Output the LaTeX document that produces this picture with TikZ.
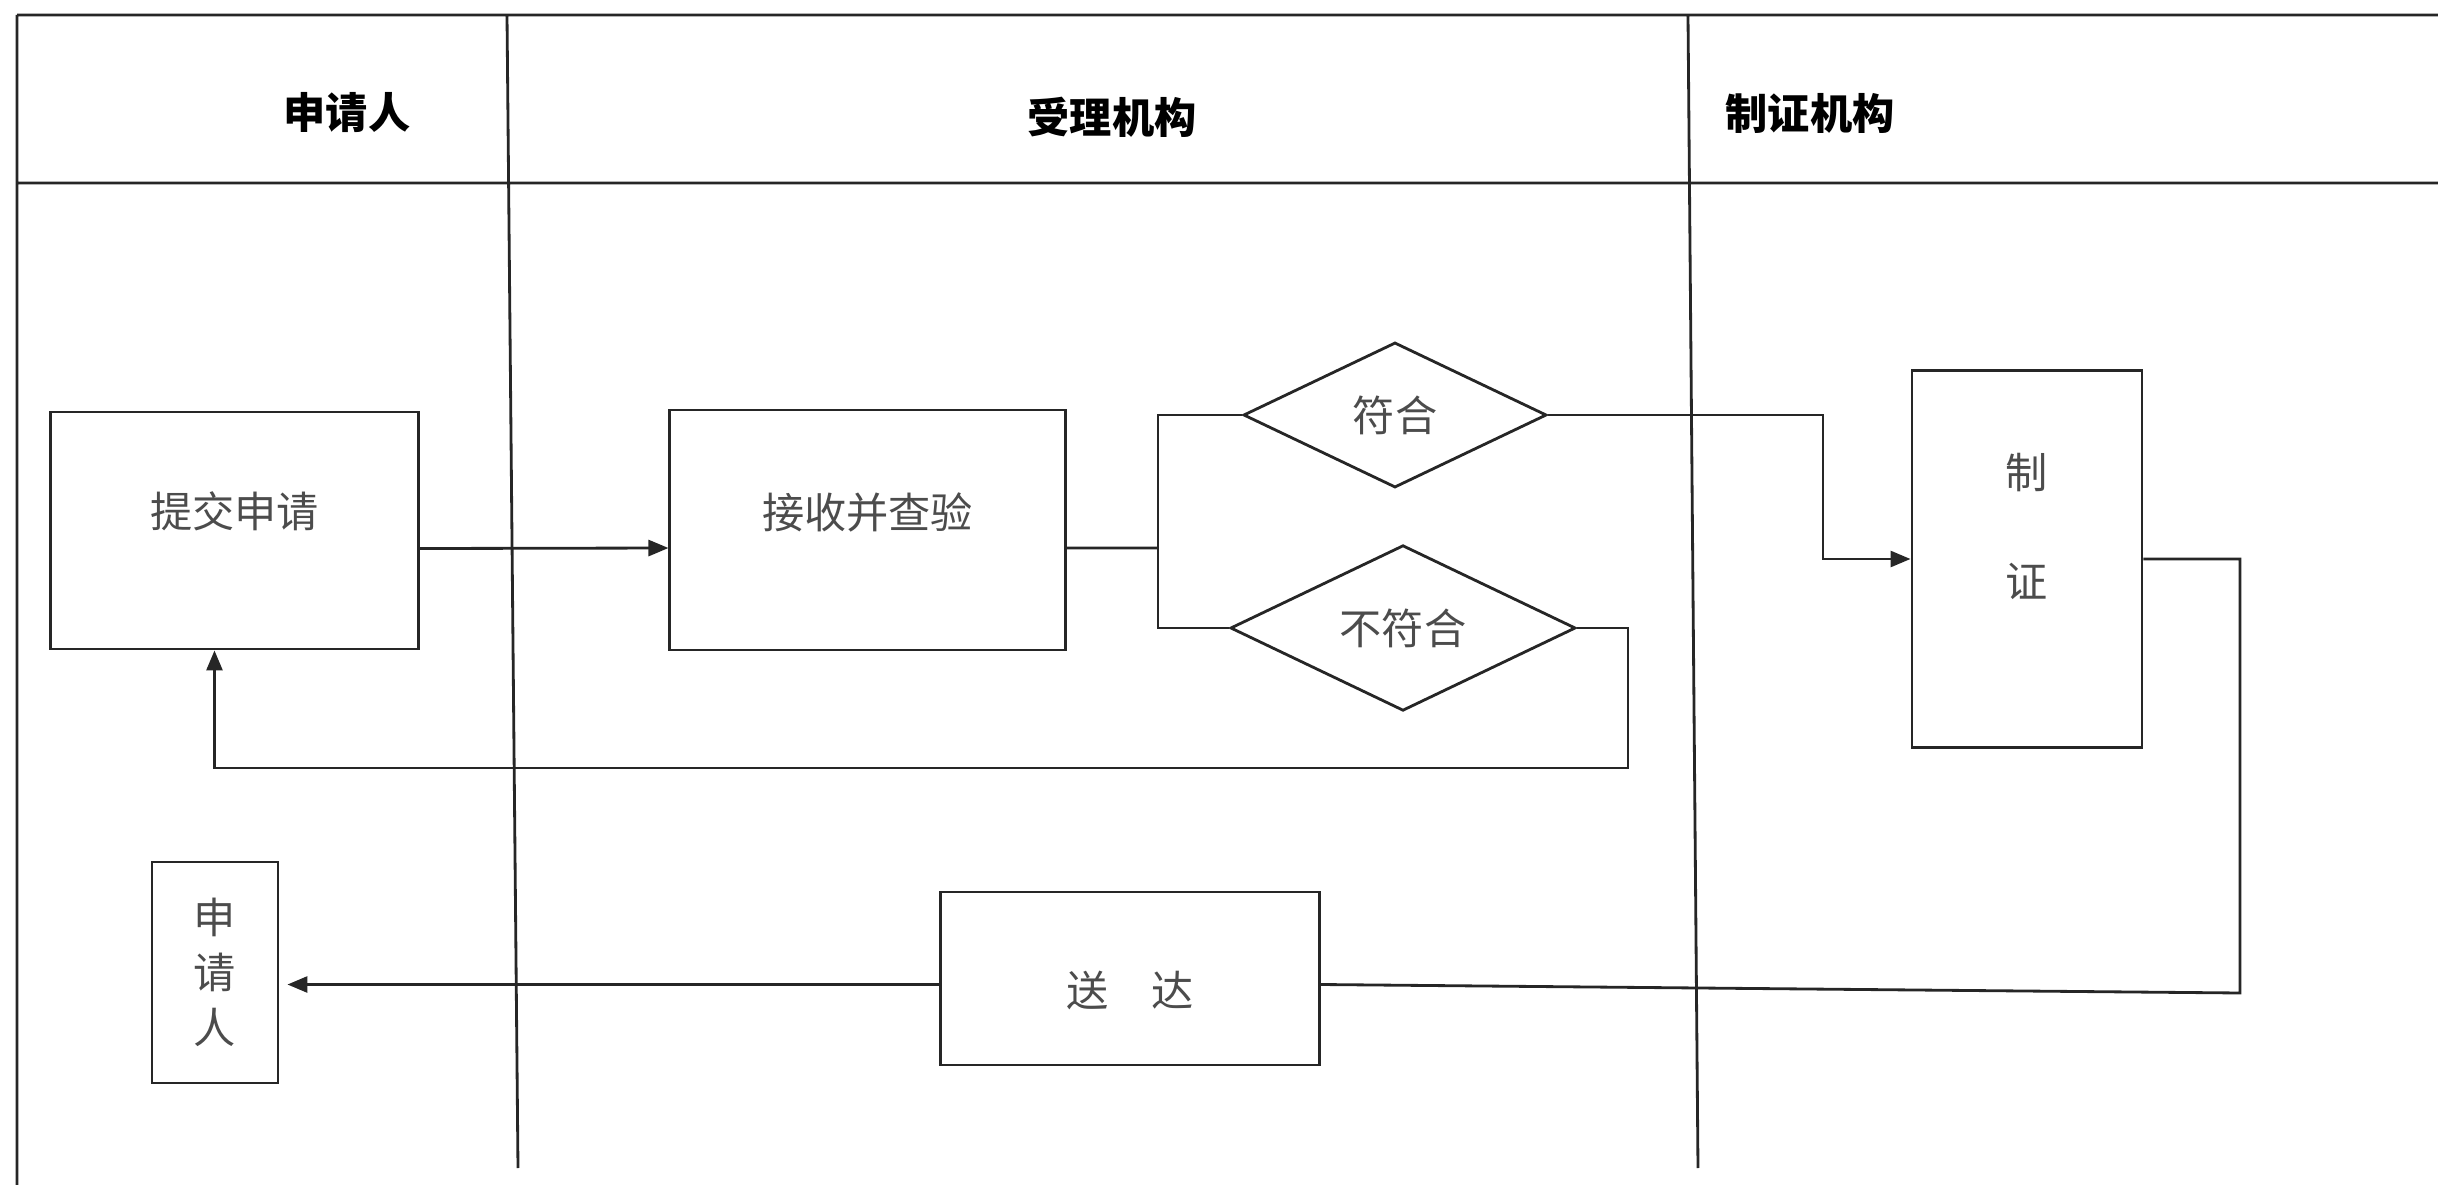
\documentclass[tikz,border=0pt]{standalone}
\usepackage{fontspec}
\setmainfont{Noto Sans CJK SC}
\usepackage{tikz}
\usetikzlibrary{arrows.meta}
\usetikzlibrary{shapes.geometric}

\begin{document}
\begin{tikzpicture}[x=0.01cm,y=-0.01cm,line width=0.8pt,draw=black!85,
  box/.style={draw,rectangle,inner sep=0pt,font=\fontsize{12}{14}\selectfont,text=black!70},
  dia/.style={draw,diamond,inner sep=0pt,font=\fontsize{12}{14}\selectfont,text=black!70},
  lane/.style={font=\bfseries\fontsize{12}{14}\selectfont},
  >={Triangle[length=2mm,width=1.6mm]}]
  \useasboundingbox (0,0) rectangle (2438,1185);

  \draw (17,15) -- (2438,15) (17,183) -- (2438,183) (17,15) -- (17,1185)
    (507,15) -- (518,1168) (1688,15) -- (1698,1168);
  \node (hsq) [lane] at (347,113) {申请人};
  \node (hsl) [lane] at (1112,117) {受理机构};
  \node (hzz) [lane] at (1810,113) {制证机构};

  \node (sq) [box,minimum width=3.67cm,minimum height=2.37cm,text depth=0.41cm] at (234.5,530.5) {提交申请};
  \node (js) [box,minimum width=3.95cm,minimum height=2.40cm,text depth=0.39cm] at (867.5,530) {接收并查验};
  \node (fh) [dia,minimum width=3.03cm,minimum height=1.45cm] at (1395,415) {符合};
  \node (bfh) [dia,minimum width=3.45cm,minimum height=1.61cm] at (1403,628) {不符合};
  \node (zz) [box,minimum width=2.30cm,minimum height=3.76cm,align=center,text depth=0.67cm] at (2027,559) {制\\[0.6cm]证};
  \node (sd) [box,minimum width=3.78cm,minimum height=1.73cm,text height=0.6cm] at (1130,978.5) {送\quad 达};
  \node (sqr) [box,minimum width=1.26cm,minimum height=2.21cm,align=center,
    font=\fontsize{12}{15.6}\selectfont] at (215,972.5) {申\\请\\人};

  \coordinate (fork) at (1158,548);
  \coordinate (back) at (1628,768);
  \coordinate (ret) at (2240,993);
  \draw[->] ([yshift=-1.8mm]sq.east) -- ([yshift=-1.8mm]js.west);
  \draw ([yshift=-1.8mm]js.east) -- (fork);
  \draw (fh.west) -| (fork) |- (bfh.west);
  \draw[->] (fh.east) -- ++(275,0) |- (zz.west);
  \draw[->] (bfh.east) -| (back) -| ([xshift=-2mm]sq.south);
  \draw (zz.east) -| (ret) -- ([yshift=-0.6mm]sd.east);
  \draw[->] ([yshift=-0.6mm]sd.west) -- ([xshift=0.8mm,yshift=-0.6mm]sqr.east |- sd.west);
\end{tikzpicture}
\end{document}
